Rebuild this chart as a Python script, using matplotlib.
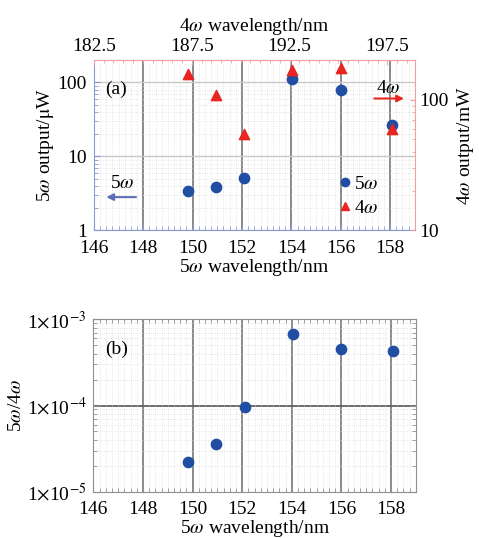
import numpy as np
import matplotlib
matplotlib.use("Agg")
import matplotlib.pyplot as plt
from matplotlib.ticker import LogLocator, NullFormatter, MultipleLocator, FixedLocator

plt.rcParams['font.family'] = ['Liberation Serif', 'DejaVu Serif']
plt.rcParams['mathtext.fontset'] = 'stix'

# data
wl5 = [149.82, 150.93, 152.1, 154.04, 156.0, 158.07]
p5_uW = [3.44, 3.9, 5.07, 111, 78.7, 26.5]
p4_mW = [156, 109, 55, 167, 175, 60]
ratio = [2.23e-5, 3.6e-5, 9.6e-5, 6.8e-4, 4.5e-4, 4.3e-4]

x_ticks = [146, 148, 150, 152, 154, 156, 158]
top_ticks = [182.5, 187.5, 192.5, 197.5]

blue = '#1f4ea3'
red = '#e8261f'
blue_sp = '#8a9ad0'
red_sp = '#f0a0a0'
fs = 14

fig = plt.figure(figsize=(4.79, 5.38), dpi=100)

# ---- panel (a)
ax = fig.add_axes([0.196, 0.572, 0.670, 0.316])
ax.set_xlim(146, 159)
ax.set_yscale('log')
ax.set_ylim(1, 200)
ax.set_xticks(x_ticks)
ax.xaxis.set_minor_locator(MultipleLocator(0.25))
ax.yaxis.set_major_locator(FixedLocator([1, 10, 100]))
ax.set_yticklabels(['1', '10', '100'])
ax.yaxis.set_minor_locator(LogLocator(base=10, subs=np.arange(2, 10)))
ax.yaxis.set_minor_formatter(NullFormatter())
ax.grid(True, which='minor', color='#dddddd', lw=0.6, ls=':')
ax.grid(True, axis='y', which='major', color='#c8c8c8', lw=1.0)
for xv in x_ticks[1:]:
    ax.axvline(xv, color='#808080', lw=1.3, zorder=1)
ax.tick_params(axis='both', which='both', direction='in', labelsize=fs, colors=blue_sp, labelcolor='black')
ax.tick_params(axis='x', pad=7)
ax.tick_params(axis='y', pad=5)
ax.tick_params(which='major', length=4)
ax.tick_params(which='minor', length=3)
ax.set_xlabel(r'5$\omega$ wavelength/nm', fontsize=fs, labelpad=0)
ax.set_ylabel(r'5$\omega$ output/$\mathrm{\mu}$W', fontsize=fs, labelpad=1)
ax.spines['left'].set_color(blue_sp)
ax.spines['bottom'].set_color(blue_sp)
ax.spines['top'].set_color(red_sp)
ax.spines['right'].set_color(red_sp)
ax.scatter(wl5, p5_uW, s=55, color=blue, zorder=5)

axr = ax.twinx()
axr.set_yscale('log')
axr.set_ylim(10, 200)
axr.yaxis.set_major_locator(FixedLocator([10, 100]))
axr.set_yticklabels(['10', '100'])
axr.yaxis.set_minor_locator(LogLocator(base=10, subs=np.arange(2, 10)))
axr.yaxis.set_minor_formatter(NullFormatter())
axr.tick_params(axis='y', which='both', direction='in', labelsize=fs, colors=red_sp, labelcolor='black')
axr.set_ylabel(r'4$\omega$ output/mW', fontsize=fs, labelpad=4)
for s in axr.spines.values():
    s.set_visible(False)
axr.scatter(wl5, p4_mW, s=55, marker='^', color=red, zorder=4)

axt = ax.twiny()
axt.set_xlim(182.5, 198.9)
axt.set_xticks(top_ticks)
axt.xaxis.set_minor_locator(MultipleLocator(0.5))
axt.tick_params(axis='x', which='both', direction='in', labelsize=fs, colors=red_sp, labelcolor='black')
axt.set_xlabel(r'4$\omega$ wavelength/nm', fontsize=fs, labelpad=5)
for s in axt.spines.values():
    s.set_visible(False)

ax.text(0.035, 0.80, '(a)', transform=ax.transAxes, fontsize=fs)
ax.text(0.05, 0.25, r'5$\omega$', transform=ax.transAxes, fontsize=fs)
ax.annotate('', xy=(0.03, 0.195), xytext=(0.14, 0.195), xycoords='axes fraction',
            arrowprops=dict(arrowstyle='-|>', color='#5a6fb8', lw=1.5))
ax.text(0.88, 0.81, r'4$\omega$', transform=ax.transAxes, fontsize=fs)
ax.annotate('', xy=(0.975, 0.775), xytext=(0.865, 0.775), xycoords='axes fraction',
            arrowprops=dict(arrowstyle='-|>', color=red, lw=1.5))
ax.plot([], [], 'o', color=blue, ms=6, label=r'5$\omega$')
ax.plot([], [], '^', color=red, ms=6, label=r'4$\omega$')
ax.legend(loc='lower right', bbox_to_anchor=(0.93, 0.0), frameon=False, fontsize=fs,
          handletextpad=0.1, handlelength=0.8, labelspacing=0.3, borderpad=0.2)

# ---- panel (b)
bx = fig.add_axes([0.195, 0.086, 0.673, 0.3205])
bx.set_xlim(146, 159)
bx.set_yscale('log')
bx.set_ylim(1e-5, 1e-3)
bx.set_xticks(x_ticks)
bx.xaxis.set_minor_locator(MultipleLocator(0.25))
bx.yaxis.set_major_locator(FixedLocator([1e-5, 1e-4, 1e-3]))
bx.set_yticklabels([r'1$\times$10$^{-5}$', r'1$\times$10$^{-4}$', r'1$\times$10$^{-3}$'])
bx.yaxis.set_minor_locator(LogLocator(base=10, subs=np.arange(2, 10)))
bx.yaxis.set_minor_formatter(NullFormatter())
bx.grid(True, which='minor', color='#dddddd', lw=0.6, ls=':')
for xv in x_ticks[1:]:
    bx.axvline(xv, color='#808080', lw=1.3, zorder=1)
bx.axhline(1e-4, color='#606060', lw=1.3, zorder=1)
bx.tick_params(axis='both', which='both', direction='in', labelsize=fs, colors='#909090',
               labelcolor='black', top=True, right=True)
bx.tick_params(axis='x', pad=7)
bx.tick_params(axis='y', pad=5)
bx.tick_params(which='major', length=4)
bx.tick_params(which='minor', length=3)
for s in bx.spines.values():
    s.set_color('#909090')
bx.set_xlabel(r'5$\omega$ wavelength/nm', fontsize=fs, labelpad=0)
bx.set_ylabel(r'5$\omega$/4$\omega$', fontsize=fs, labelpad=1)
bx.scatter(wl5, ratio, s=55, color=blue, zorder=5)
bx.text(0.035, 0.80, '(b)', transform=bx.transAxes, fontsize=fs)

fig.savefig('out.png', dpi=100)
